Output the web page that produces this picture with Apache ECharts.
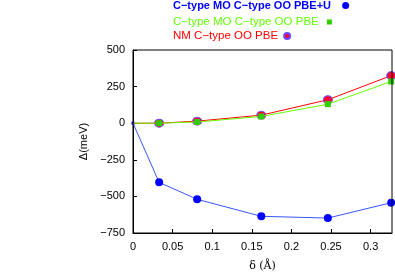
<!DOCTYPE html>
<html><head><meta charset="utf-8">
<script src="https://cdn.jsdelivr.net/npm/echarts@6/dist/echarts.min.js"></script>
<style>html,body{margin:0;padding:0;background:#fff}#c{width:395px;height:277px}</style>
</head><body><div id="c"></div>
<script>
var deltas = [0, 0.033, 0.081, 0.162, 0.246, 0.326];
var blueVals = [0, -404, -520, -636, -648, -543];
var greenVals = [0, 0, 8, 46, 130, 285];
var redVals = [0, 0, 14, 55, 160, 325];
var names = ['C\u2212type MO C\u2212type OO PBE+U', 'C\u2212type MO C\u2212type OO PBE', 'NM C\u2212type OO PBE'];

function pairs(v, firstSize){
  return deltas.map(function(d,i){
    var p = {value:[d, v[i]]};
    if (i === 0) { p.symbolSize = firstSize; p.symbol = 'rect'; }
    return p;
  });
}
var font = 'Liberation Sans, Arial, sans-serif';
var chart = echarts.init(document.getElementById('c'));
function leg(name, color, top, icon, w, h, weight, size, pad){
  return {data:[{name:name, icon:icon}], orient:'vertical', align:'right', left:173, top:top,
    itemWidth:w, itemHeight:h, itemGap:0, padding:0,
    formatter:function(n){ return n + pad; },
    textStyle:{color:color, fontSize:size, fontWeight:weight, fontFamily:font}};
}
function minus(v){ return (v + '').replace('-', '\u2212'); }
chart.setOption({
  animation:false,
  legend:[
    leg(names[0], '#0000ff', 0, 'circle', 7, 7, 'bold', 11, '  '),
    leg(names[1], '#66ff00', 16, 'rect', 5, 5, 'normal', 11.5, ' '),
    leg(names[2], '#ff0000', 30, 'circle', 8, 6, 'normal', 11.5, '')
  ],
  grid:{left:133, right:3, top:50, bottom:44},
  xAxis:{type:'value', min:0, max:0.327, interval:0.05,
    name:'\u03b4 (\u00c5)', nameLocation:'middle', nameGap:28,
    nameTextStyle:{color:'#000', fontSize:11, fontFamily:'DejaVu Serif, serif'},
    axisLine:{onZero:false, lineStyle:{color:'#000', width:1}},
    axisTick:{inside:true, length:4, lineStyle:{color:'#000'}},
    axisLabel:{color:'#000', fontSize:11, fontFamily:font, showMaxLabel:false, margin:8,
      formatter:function(v){ return Math.round(v*100)/100 + ''; }},
    splitLine:{show:false}},
  yAxis:{type:'value', min:-750, max:500, interval:250,
    name:'\u0394(meV)', nameLocation:'middle', nameGap:33, nameRotate:90,
    nameTextStyle:{color:'#000', fontSize:11, fontFamily:font},
    axisLine:{show:true, lineStyle:{color:'#000', width:1}},
    axisTick:{inside:true, length:4, lineStyle:{color:'#000'}},
    axisLabel:{color:'#000', fontSize:11, fontFamily:font, margin:8, formatter:minus},
    splitLine:{show:false}},
  series:[
    {name:names[0], type:'line', data:pairs(blueVals, 3), symbol:'circle', symbolSize:8,
      lineStyle:{color:'#3355ff', width:1}, itemStyle:{color:'#0000ff'}, z:2},
    {name:names[2], type:'line', data:pairs(redVals, 0), symbol:'circle', symbolSize:[9,8],
      lineStyle:{color:'#ff0000', width:1}, itemStyle:{color:'#ff0033', borderColor:'#6a4cff', borderWidth:1}, z:3},
    {name:names[1], type:'line', data:pairs(greenVals, 0), symbol:'rect', symbolSize:6,
      lineStyle:{color:'#66ff00', width:1}, itemStyle:{color:'#33cc00'}, z:4}
  ],
  graphic:[{type:'rect', shape:{x:133, y:50, width:259, height:183}, style:{fill:'none', stroke:'#000', lineWidth:1}, silent:true, z:10}]
});
</script></body></html>
